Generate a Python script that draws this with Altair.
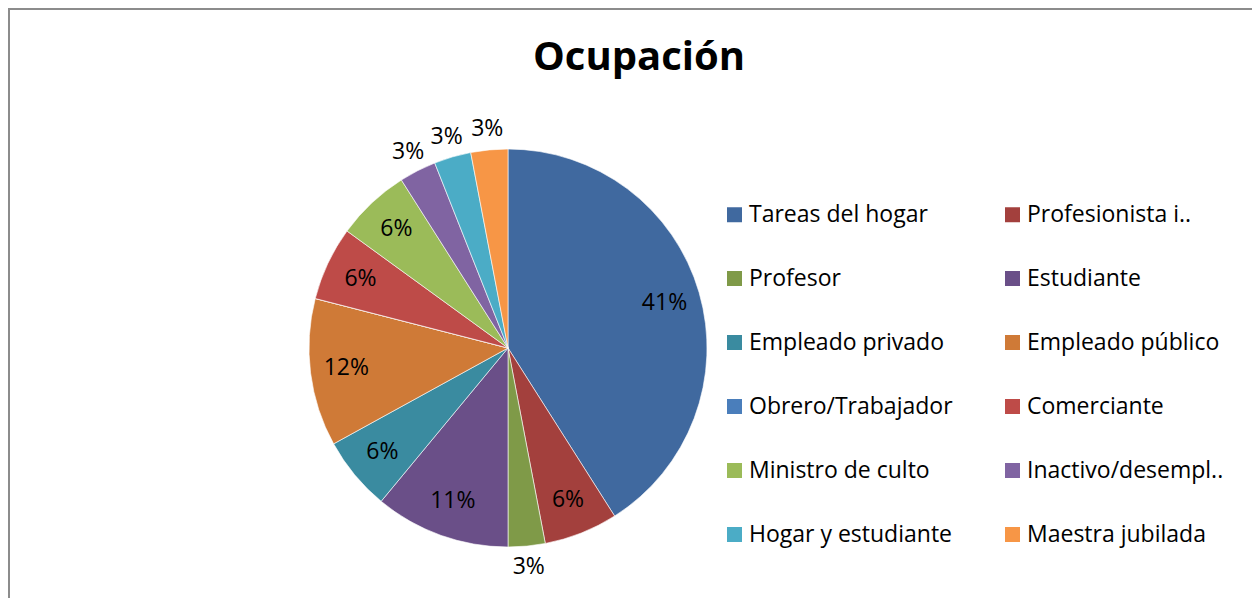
import altair as alt
import pandas as pd

categories = ["Tareas del hogar", "Profesionista i..", "Profesor", "Estudiante",
              "Empleado privado", "Empleado público", "Obrero/Trabajador", "Comerciante",
              "Ministro de culto", "Inactivo/desempl..", "Hogar y estudiante", "Maestra jubilada"]
values = [41, 6, 3, 11, 6, 12, 0, 6, 6, 3, 3, 3]
colors = ["#40699F", "#A3403D", "#7F9A48", "#6A4F88", "#3A8BA0", "#CF7A37",
          "#4A7EBB", "#BE4B48", "#9BBB59", "#8064A2", "#4BACC6", "#F79646"]

df = pd.DataFrame({"cat": categories, "value": values, "idx": list(range(len(categories)))})

# legend fills column by column; reorder so it reads row by row like the original
ncol = 2
legend_order = [i for c in range(ncol) for i in range(c, len(categories), ncol)]
dom = [categories[i] for i in legend_order]
rng = [colors[i] for i in legend_order]

W, H = 1244, 590
CX, CY = 500, 340
R = 199
FONT = "Open Sans"

color = alt.Color(
    "cat:N",
    scale=alt.Scale(domain=dom, range=rng),
    sort=dom,
    legend=alt.Legend(
        orient="none", legendX=715, legendY=195, columns=ncol, title=None,
        symbolType="square", symbolSize=225, symbolStrokeWidth=0,
        labelFont=FONT, labelFontSize=23, labelColor="#000000", labelLimit=400,
        labelOffset=3, rowPadding=40, columnPadding=48,
    ),
)

theta = alt.Theta("value:Q", stack=True)
order = alt.Order("idx:Q")

base = alt.Chart(df).encode(theta=theta, order=order, x=alt.value(CX), y=alt.value(CY))

pie = base.mark_arc(outerRadius=R, stroke="#ffffff", strokeWidth=0.6).encode(
    color=color
)

inside = base.mark_text(radius=163, font=FONT, fontSize=23, color="#000000").encode(
    text="lbl_in:N"
).transform_calculate(lbl_in="datum.value > 3 ? datum.value + '%' : ''")

outside = base.mark_text(radius=220, font=FONT, fontSize=23, color="#000000").encode(
    text="lbl_out:N"
).transform_calculate(lbl_out="(datum.value > 0 && datum.value <= 3) ? datum.value + '%' : ''")

frame_left = alt.Chart(df).mark_rule(color="#8c8c8c", strokeWidth=2).encode(
    x=alt.value(1), y=alt.value(0), y2=alt.value(H)
)
frame_top = alt.Chart(df).mark_rule(color="#8c8c8c", strokeWidth=2).encode(
    x=alt.value(0), x2=alt.value(W), y=alt.value(1)
)

chart = alt.layer(frame_left, frame_top, pie, inside, outside).properties(
    width=W, height=H,
    title=alt.TitleParams("Ocupación", font=FONT, fontSize=40, fontWeight="bold",
                          color="#000000", anchor="middle", offset=-71, dx=9),
    autosize=alt.AutoSizeParams(type="none"),
    padding=0,
).configure_view(stroke=None)

chart.save("out.html", embed_options={"renderer": "svg", "actions": False})
